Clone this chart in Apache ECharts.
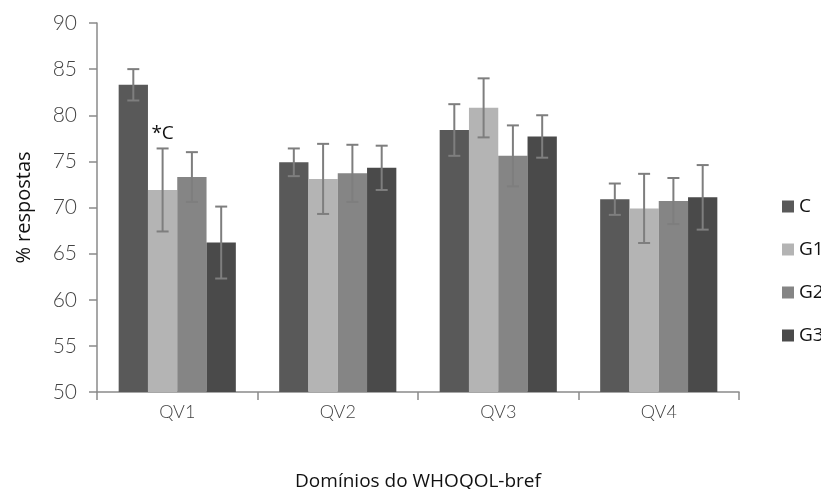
<!DOCTYPE html>
<html><head><meta charset="utf-8">
<script src="https://cdn.jsdelivr.net/npm/echarts@6/dist/echarts.min.js"></script>
<style>html,body{margin:0;padding:0;background:#fff}#c{width:821px;height:489px}</style>
</head><body><div id="c"></div>
<script>
const categories = ['QV1','QV2','QV3','QV4'];
const seriesNames = ['C','G1','G2','G3'];
const valC  = [83.3, 74.9, 78.4, 70.9];
const valG1 = [71.9, 73.1, 80.8, 69.9];
const valG2 = [73.3, 73.7, 75.6, 70.7];
const valG3 = [66.2, 74.3, 77.7, 71.1];
const errC  = [1.7, 1.5, 2.8, 1.7];
const errG1 = [4.5, 3.8, 3.2, 3.75];
const errG2 = [2.7, 3.1, 3.3, 2.5];
const errG3 = [3.9, 2.4, 2.3, 3.5];
const colors = ['#595959', '#b4b4b4', '#858585', '#4a4a4a'];
const yTicks = {min: 50, max: 90, interval: 5};
const annotation = {cat: 'QV1', value: 78.0, text: '*C'};

const values = [valC, valG1, valG2, valG3];
const errors = [errC, errG1, errG2, errG3];
const gapPct = 0.27;
const labelFont = 'Lato, "Open Sans", sans-serif';
const textFont = '"Open Sans", sans-serif';

const series = [];
values.forEach((v, i) => {
  series.push({
    name: seriesNames[i], type: 'bar', data: v,
    barGap: '0%', barCategoryGap: (gapPct*100)+'%',
    itemStyle: {color: colors[i]},
    z: 2
  });
});
values.forEach((v, i) => {
  series.push({
    type: 'custom', name: seriesNames[i] + '_err',
    data: v.map((val, j) => [j, val - errors[i][j], val + errors[i][j]]),
    z: 5, silent: true,
    renderItem: function (params, api) {
      const x = api.value(0);
      const lo = api.coord([x, api.value(1)]);
      const hi = api.coord([x, api.value(2)]);
      const band = api.size([1, 0])[0];
      const bw = band * (1 - gapPct) / 4;
      const cx = lo[0] + (i - 1.5) * bw;
      const cap = 6;
      const st = {stroke: '#7e7e7e', lineWidth: 2};
      return {type: 'group', children: [
        {type: 'line', shape: {x1: cx, y1: hi[1], x2: cx, y2: lo[1]}, style: st},
        {type: 'line', shape: {x1: cx - cap, y1: hi[1], x2: cx + cap, y2: hi[1]}, style: st},
        {type: 'line', shape: {x1: cx - cap, y1: lo[1], x2: cx + cap, y2: lo[1]}, style: st}
      ]};
    }
  });
});
series[1].markPoint = {
  symbol: 'circle', symbolSize: 0,
  data: [{coord: [annotation.cat, annotation.value], value: annotation.text}],
  label: {show: true, formatter: annotation.text, color: '#111', fontSize: 19,
          fontFamily: textFont, position: 'inside'}
};

const chart = echarts.init(document.getElementById('c'), null, {renderer: 'canvas'});
chart.setOption({
  animation: false,
  backgroundColor: '#fff',
  grid: {left: 97, right: 82, top: 23, bottom: 97, containLabel: false, outerBoundsMode: 'none'},
  legend: {
    orient: 'vertical', left: 777, top: 192,
    data: seriesNames, itemWidth: 12, itemHeight: 12, itemGap: 24,
    icon: 'rect',
    textStyle: {fontSize: 19, color: '#111', fontFamily: textFont, padding: [0,0,0,0]}
  },
  xAxis: {
    type: 'category', data: categories,
    name: 'Domínios do WHOQOL-bref', nameLocation: 'middle', nameGap: 80,
    nameTextStyle: {fontSize: 19, color: '#111', fontFamily: textFont},
    axisLine: {lineStyle: {color: '#8a8a8a', width: 1.5}},
    axisTick: {show: true, length: 8, alignWithLabel: false, lineStyle: {color: '#8a8a8a', width: 1.5}},
    axisLabel: {fontSize: 18, color: '#444', margin: 11, fontFamily: labelFont, fontWeight: 300}
  },
  yAxis: {
    type: 'value', min: yTicks.min, max: yTicks.max, interval: yTicks.interval,
    name: '% respostas', nameLocation: 'middle', nameGap: 63, nameRotate: 90,
    nameTextStyle: {fontSize: 20, color: '#111', fontFamily: textFont},
    axisLine: {show: true, lineStyle: {color: '#8a8a8a', width: 1.5}},
    axisTick: {show: true, length: 8, lineStyle: {color: '#8a8a8a', width: 1.5}},
    splitLine: {show: false},
    axisLabel: {fontSize: 21, color: '#444', margin: 20, fontFamily: labelFont, fontWeight: 300}
  },
  series: series
});
</script></body></html>
